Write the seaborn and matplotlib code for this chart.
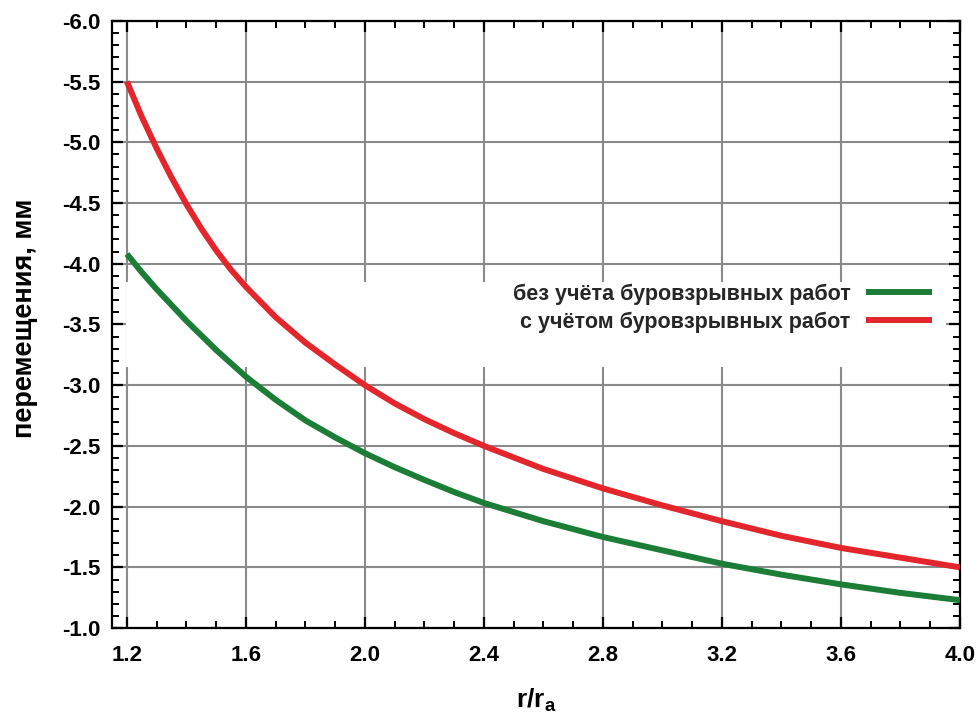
import numpy as np
import pandas as pd
import seaborn as sns
import matplotlib
matplotlib.use("Agg")
import matplotlib.pyplot as plt
from matplotlib.ticker import MultipleLocator
from matplotlib.patches import Rectangle

# ---- data ----
r_values = [1.2, 1.25, 1.3, 1.35, 1.4, 1.45, 1.5, 1.55, 1.6, 1.7, 1.8, 1.9, 2.0,
            2.1, 2.2, 2.3, 2.4, 2.6, 2.8, 3.0, 3.2, 3.4, 3.6, 3.8, 4.0]
without_blasting = [-4.08, -3.93, -3.79, -3.66, -3.53, -3.41, -3.29, -3.18, -3.07,
                    -2.88, -2.71, -2.57, -2.44,
                    -2.325, -2.22, -2.12, -2.03, -1.88, -1.75, -1.64, -1.53, -1.44,
                    -1.36, -1.29, -1.23]
with_blasting = [-5.50, -5.21, -4.95, -4.71, -4.49, -4.29, -4.11, -3.95, -3.81,
                 -3.56, -3.35, -3.17, -3.00,
                 -2.85, -2.72, -2.605, -2.50, -2.31, -2.15, -2.01, -1.88, -1.76,
                 -1.66, -1.58, -1.50]
series_labels = ["без учёта буровзрывных работ", "с учётом буровзрывных работ"]
series_colors = ["#1c7e36", "#e2262b"]
x_ticks = [1.2, 1.6, 2.0, 2.4, 2.8, 3.2, 3.6, 4.0]
y_ticks = [-6.0, -5.5, -5.0, -4.5, -4.0, -3.5, -3.0, -2.5, -2.0, -1.5, -1.0]
x_label = "r/r$_\\mathregular{a}$"
y_label = "перемещения, мм"

sns.set_theme(style="whitegrid")
plt.rcParams['font.family'] = ['Liberation Sans', 'DejaVu Sans']
plt.rcParams['axes.axisbelow'] = True

df = pd.DataFrame({
    "r": r_values * 2,
    "u": without_blasting + with_blasting,
    "series": [series_labels[0]] * len(r_values) + [series_labels[1]] * len(r_values),
})

fig = plt.figure(figsize=(9.78, 7.17), dpi=100)
ax = fig.add_axes([0.1145, 0.124, 0.8671, 0.847])

sns.lineplot(data=df, x="r", y="u", hue="series", hue_order=series_labels,
             palette=dict(zip(series_labels, series_colors)),
             linewidth=4.3, ax=ax, zorder=3, legend=True)
for ln in ax.get_lines():
    ln.set_solid_joinstyle("round")
    ln.set_solid_capstyle("butt")

ax.set_xlim(1.15, 4.0)
ax.set_ylim(y_ticks[-1], y_ticks[0])
ax.set_xticks(x_ticks)
ax.set_xticklabels([f"{v:.1f}" for v in x_ticks])
ax.set_yticks(y_ticks)
ax.set_yticklabels([f"{v:.1f}" for v in y_ticks])
ax.xaxis.set_minor_locator(MultipleLocator(0.1))
ax.yaxis.set_minor_locator(MultipleLocator(0.1))

ax.grid(True, which="major", color="#8a8a8a", linewidth=1.5)
ax.grid(False, which="minor")
for s in ax.spines.values():
    s.set_color("black")
    s.set_linewidth(1.6)

ax.tick_params(which="both", direction="in", top=True, right=True,
               bottom=True, left=True, color="black")
ax.tick_params(which="major", length=8, width=1.6)
ax.tick_params(which="minor", length=5, width=1.4)
ax.tick_params(axis="y", which="major", labelsize=16, pad=8.5, labelcolor="black")
ax.tick_params(axis="x", which="major", labelsize=16, pad=12, labelcolor="black")
for lab in ax.get_xticklabels() + ax.get_yticklabels():
    lab.set_fontweight("bold")

ax.set_xlabel(x_label, fontsize=19, fontweight="bold", labelpad=15, color="black")
ax.set_ylabel(y_label, fontsize=19.5, fontweight="bold", labelpad=17, color="black", y=0.51)

# white band behind the legend (covers the grid, lines stay above)
ax.add_patch(Rectangle((0.016, 0.43), 0.968, 0.14, transform=ax.transAxes,
                       facecolor="white", edgecolor="none", zorder=1))

handles, labels = ax.get_legend_handles_labels()
leg = ax.legend(handles, labels, loc="upper right", bbox_to_anchor=(0.975, 0.578),
                frameon=False, markerfirst=False, handlelength=3.1,
                handletextpad=0.7, fontsize=15.5, borderaxespad=0,
                borderpad=0.3, labelspacing=0.3)
for t in leg.get_texts():
    t.set_fontweight("bold")
for h in leg.get_lines():
    h.set_linewidth(4.3)

fig.savefig("out.png", dpi=100)
